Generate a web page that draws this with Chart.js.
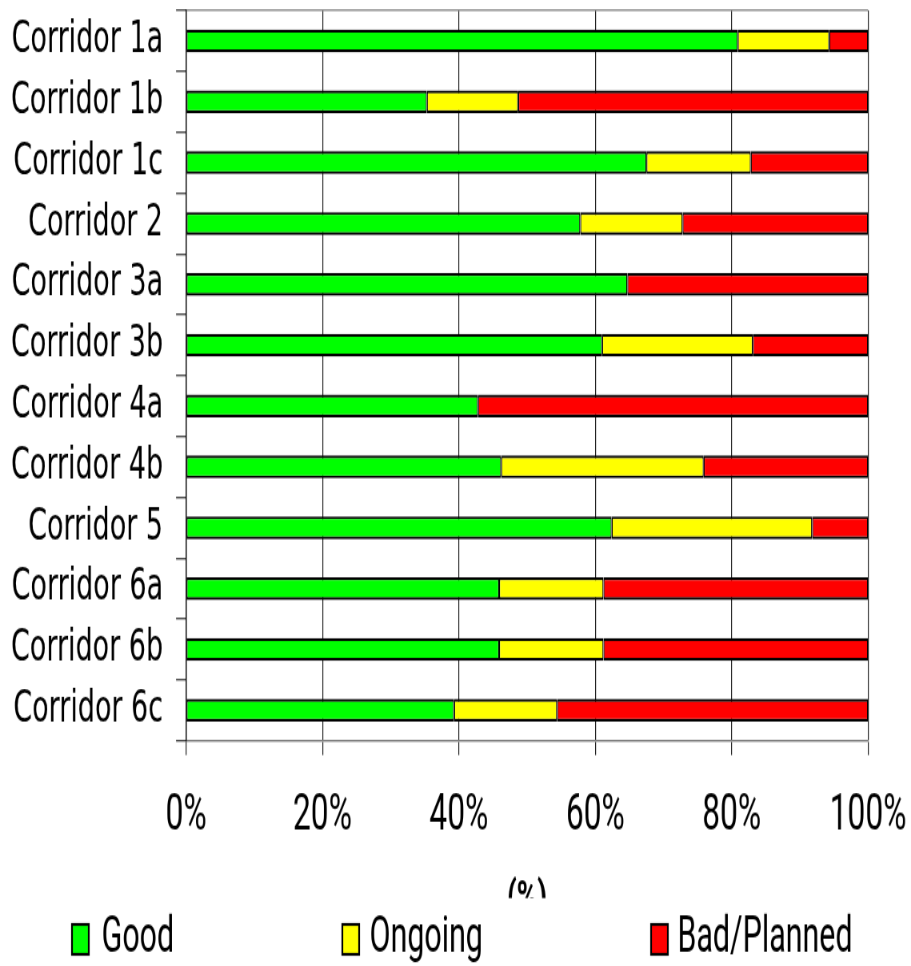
<!DOCTYPE html>
<html>
<head>
<meta charset="utf-8">
<script src="https://cdn.jsdelivr.net/npm/chart.js@4/dist/chart.umd.min.js"></script>
<style>
  html, body { margin: 0; padding: 0; background: #fff; overflow: hidden; width: 911px; height: 966px; }
  #wrap { position: absolute; left: 0; top: 0; width: 1139px; height: 743px;
          transform: scale(0.79982, 1.30013); transform-origin: 0 0; }
</style>
</head>
<body>
<div id="wrap"><canvas id="c"></canvas></div>
<script>
const categories = ['Corridor 1a', 'Corridor 1b', 'Corridor 1c', 'Corridor 2', 'Corridor 3a', 'Corridor 3b',
                    'Corridor 4a', 'Corridor 4b', 'Corridor 5', 'Corridor 6a', 'Corridor 6b', 'Corridor 6c'];
const good    = [80.9, 35.3, 67.5, 57.8, 64.7, 61.0, 42.8, 46.2, 62.4, 45.9, 45.9, 39.3];
const ongoing = [13.4, 13.4, 15.3, 15.0,  0.0, 22.1,  0.0, 29.7, 29.4, 15.3, 15.3, 15.1];
const bad     = [ 5.7, 51.3, 17.2, 27.2, 35.3, 16.9, 57.2, 24.1,  8.2, 38.8, 38.8, 45.6];
const seriesNames = ['Good', 'Ongoing', 'Bad/Planned'];
const xTicks = [0, 20, 40, 60, 80, 100];
const axisTitle = '(%)';

const TICKFONT = "Roboto, 'Liberation Sans', sans-serif";
const CATFONT = "'DejaVu Sans', 'Liberation Sans', sans-serif";

const legendPos = [ {box: 90, text: 127}, {box: 428, text: 462}, {box: 814, text: 847} ];

const customLegend = {
  id: 'customLegend',
  afterDraw(chart) {
    const ctx = chart.ctx;
    ctx.save();
    // legend area background (covers the lower half of the axis title, as in the reference)
    ctx.fillStyle = '#ffffff';
    ctx.fillRect(0, 690.7, chart.width, chart.height - 690.7);
    ctx.font = "38px " + TICKFONT;
    ctx.textBaseline = 'middle';
    ctx.textAlign = 'left';
    chart.data.datasets.forEach((ds, i) => {
      const p = legendPos[i];
      ctx.fillStyle = ds.backgroundColor;
      ctx.fillRect(p.box, 711, 21, 23);
      ctx.lineWidth = 2.2;
      ctx.strokeStyle = '#000';
      ctx.strokeRect(p.box, 711, 21, 23);
      ctx.fillStyle = '#000';
      ctx.fillText(ds.label, p.text, 722);
    });
    ctx.restore();
  }
};

const mk = (label, data, color) => ({
  label, data,
  backgroundColor: color,
  borderColor: '#000000',
  borderWidth: {top: 2.2, bottom: 2.2, left: 1.3, right: 1.3},
  borderSkipped: false,
  barPercentage: 0.746,
  categoryPercentage: 0.5
});

new Chart(document.getElementById('c'), {
  type: 'bar',
  data: {
    labels: categories,
    datasets: [
      mk(seriesNames[0], good, '#00ff00'),
      mk(seriesNames[1], ongoing, '#ffff00'),
      mk(seriesNames[2], bad, '#ff0000')
    ]
  },
  options: {
    indexAxis: 'y',
    responsive: true,
    maintainAspectRatio: false,
    animation: false,
    layout: { padding: { left: 13.8, right: 53.7, top: 8.1, bottom: 28.5 } },
    plugins: {
      legend: { display: false },
      tooltip: { enabled: false }
    },
    scales: {
      x: {
        stacked: true,
        min: 0, max: 100,
        afterBuildTicks: (scale) => { scale.ticks = xTicks.map(v => ({ value: v })); },
        afterFit: (scale) => { scale.height = 144.8; scale.paddingLeft = 0; scale.paddingRight = 0; },
        ticks: {
          padding: 23.6,
          color: '#000',
          font: { family: TICKFONT, size: 39.7 },
          callback: (v) => v + '%'
        },
        grid: { color: '#222222', lineWidth: 1.2, tickLength: 11, tickColor: '#222222' },
        border: { display: true, color: '#808080', width: 1.6 },
        title: {
          display: true,
          text: axisTitle,
          color: '#000',
          font: { family: TICKFONT, size: 35, weight: 'bold' },
          padding: { top: 0, bottom: 0 }
        }
      },
      y: {
        stacked: true,
        afterFit: (scale) => { scale.width = 218.8; scale.paddingTop = 0; scale.paddingBottom = 0; },
        ticks: {
          autoSkip: false,
          padding: 16.3,
          color: '#000',
          font: { family: CATFONT, size: 33.7 }
        },
        grid: {
          offset: true,
          drawOnChartArea: true,
          color: (ctx) => (ctx.index === 0 ? '#909090' : 'rgba(0,0,0,0)'),
          lineWidth: 1.6,
          tickColor: '#000000',
          tickWidth: 1,
          tickLength: 12.5
        },
        border: { display: true, color: '#000000', width: 1.3 }
      }
    }
  },
  plugins: [customLegend]
});
</script>
</body>
</html>
